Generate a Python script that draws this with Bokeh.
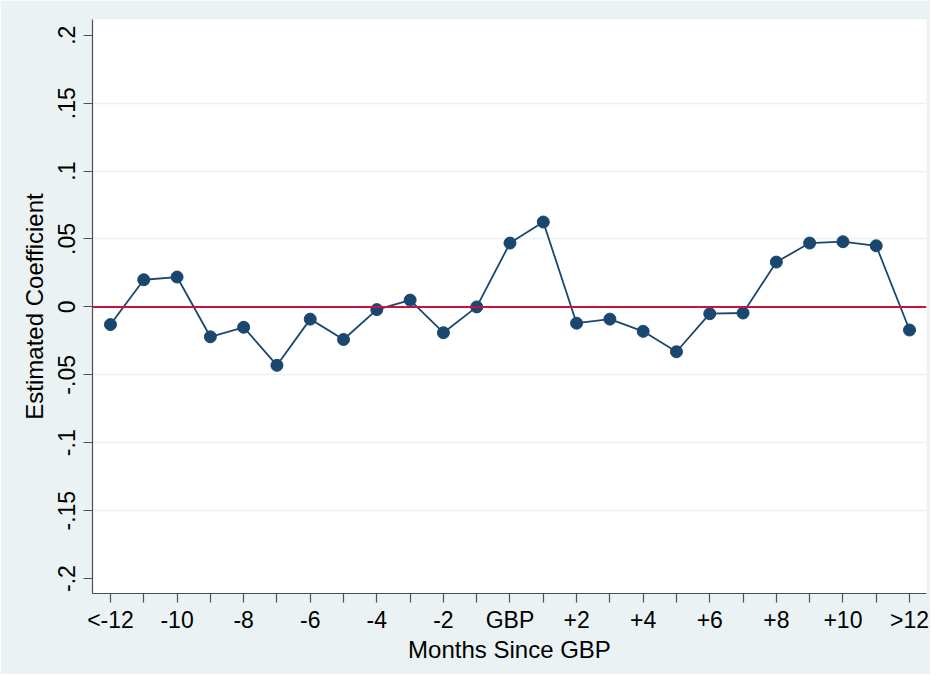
from bokeh.plotting import figure
from bokeh.models import FixedTicker, Range1d, Span
from bokeh.embed import file_html
from bokeh.resources import INLINE

# ---- data ----
month_labels = ["<-12", "-11", "-10", "-9", "-8", "-7", "-6", "-5", "-4", "-3", "-2", "-1",
                "GBP", "+1", "+2", "+3", "+4", "+5", "+6", "+7", "+8", "+9", "+10", "+11", ">12"]
coefficients = [-0.013, 0.020, 0.022, -0.022, -0.015, -0.043, -0.009, -0.024, -0.002, 0.005,
                -0.019, 0.000, 0.047, 0.0625, -0.012, -0.009, -0.018, -0.033, -0.005, -0.0045,
                0.033, 0.047, 0.048, 0.045, -0.017]
y_ticks = [-0.2, -0.15, -0.1, -0.05, 0.0, 0.05, 0.1, 0.15, 0.2]
y_tick_labels = ["-.2", "-.15", "-.1", "-.05", "0", ".05", ".1", ".15", ".2"]
grid_values = [-0.15, -0.1, -0.05, 0.05, 0.1, 0.15]
reference_value = 0.0

x_pos = list(range(len(month_labels)))

BG = "#EAF2F3"
NAVY = "#1A476F"
RED = "#C8143C"
AXIS = "#505050"
FONT = "Liberation Sans"

p = figure(width=930, height=674, output_backend="svg", toolbar_location=None,
           x_range=Range1d(-0.54, 24.51), y_range=Range1d(-0.211, 0.2116),
           min_border_left=92, min_border_right=4, min_border_top=19, min_border_bottom=81)

p.background_fill_color = "white"
p.border_fill_color = BG
p.outline_line_color = None

# grid
p.xgrid.visible = False
p.ygrid.ticker = FixedTicker(ticks=grid_values)
p.ygrid.grid_line_color = BG
p.ygrid.grid_line_width = 1.5

# reference line
p.add_layout(Span(location=reference_value, dimension="width", line_color=RED, line_width=2))

# series
p.line(x_pos, coefficients, line_color=NAVY, line_width=1.8)
p.scatter(x_pos, coefficients, size=12, fill_color=NAVY, line_color=NAVY, marker="circle")

# x axis
p.xaxis.ticker = FixedTicker(ticks=x_pos)
p.xaxis.major_label_overrides = {i: (lab if i % 2 == 0 else "") for i, lab in enumerate(month_labels)}
p.xaxis.axis_label = "Months Since GBP"
p.xaxis.minor_tick_line_color = None

# y axis
p.yaxis.ticker = FixedTicker(ticks=y_ticks)
p.yaxis.major_label_overrides = {v: lab for v, lab in zip(y_ticks, y_tick_labels)}
p.yaxis.major_label_orientation = "vertical"
p.yaxis.axis_label = "Estimated Coefficient"
p.yaxis.minor_tick_line_color = None

for ax in (p.xaxis, p.yaxis):
    ax.axis_line_color = AXIS
    ax.axis_line_width = 1.2
    ax.major_tick_line_color = AXIS
    ax.major_tick_line_width = 1.2
    ax.major_tick_out = 9
    ax.major_tick_in = 0
    ax.major_label_text_font = FONT
    ax.major_label_text_font_size = "23px"
    ax.major_label_text_color = "black"
    ax.axis_label_text_font = FONT
    ax.axis_label_text_font_size = "24px"
    ax.axis_label_text_font_style = "normal"
    ax.axis_label_text_color = "black"

p.xaxis.major_label_standoff = 4
p.xaxis.axis_label_standoff = 0
p.yaxis.major_label_standoff = 8
p.yaxis.axis_label_standoff = 8

open("out.html", "w").write(file_html(p, INLINE))
